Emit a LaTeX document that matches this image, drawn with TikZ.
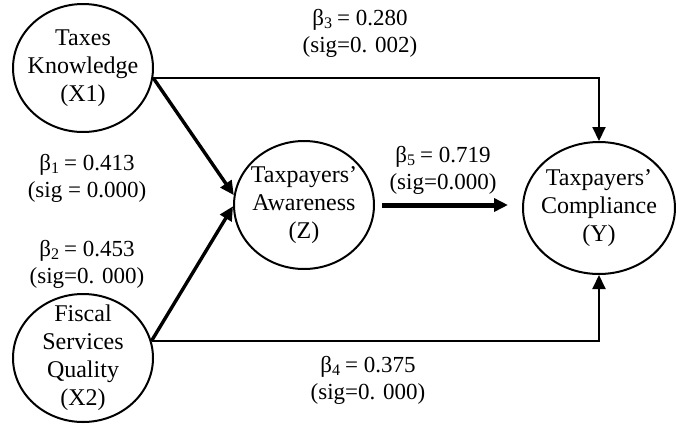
\documentclass[tikz,border=0pt]{standalone}
\usepackage{fontspec}
\setmainfont{Liberation Serif}
\usetikzlibrary{shapes.geometric,arrows.meta,positioning,calc}

\begin{document}
\begin{tikzpicture}[
    x=0.5pt, y=-0.5pt,
    var/.style={ellipse, draw, line width=1pt, inner xsep=-8pt, inner ysep=-4pt, minimum width=70pt, minimum height=64pt, align=center, font=\fontsize{12}{14}\selectfont},
    coef/.style={align=center, font=\fontsize{11.5}{13.5}\selectfont},
    >={Triangle[length=7pt, width=6.5pt]},
    thinarrow/.style={->, line width=1pt},
    arrow/.style={->, line width=1.7pt},
    bigarrow/.style={->, line width=2.5pt}
]
\useasboundingbox (0,0) rectangle (676,424);
% Nodes
\node[var] (X1) at (83,68) {Taxes\\Knowledge\\(X1)};
\node[var] (X2) at (83,358) {Fiscal\\Services\\Quality\\(X2)};
\node[var] (Z) at (304,205) {Taxpayers'\\Awareness\\(Z)};
\node[var, minimum width=76pt, minimum height=66pt] (Y) at (599,208) {Taxpayers'\\Compliance\\(Y)};

% Coefficients
\node[coef] (b1) at (87,178) {β\textsubscript{1}\,= 0.413\\(sig = 0.000)};
\node[coef] (b2) at (87,264) {β\textsubscript{2}\,= 0.453\\(sig=0. 000)};
\node[coef] (b3) at (360,33) {β\textsubscript{3}\,= 0.280\\(sig=0. 002)};
\node[coef] (b4) at (368,380) {β\textsubscript{4}\,= 0.375\\(sig=0. 000)};
\node[coef] (b5) at (443,170) {β\textsubscript{5}\,= 0.719\\(sig=0.000)};

% Edges
\draw[arrow] (X1.-8) -- (Z.172);
\draw[arrow] (X2.14) -- (Z.181);
\draw[thinarrow] (X1.-8) -| (Y.north);
\draw[thinarrow] (X2.14) -| (Y.south);
\draw[bigarrow, shorten <=3.5pt, shorten >=7pt] (Z.east) -- (Y.west |- Z.east);
\end{tikzpicture}
\end{document}
